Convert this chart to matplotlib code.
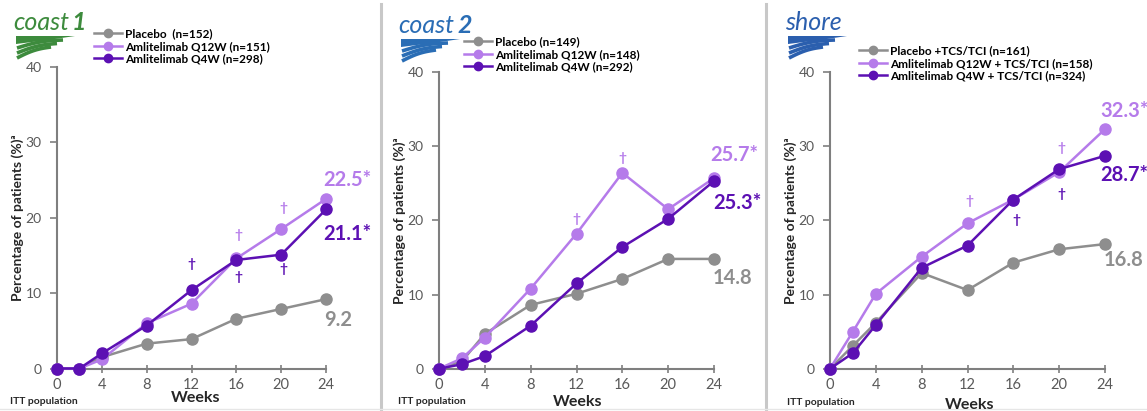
import matplotlib
matplotlib.use('Agg')
import matplotlib.pyplot as plt
import numpy as np
from matplotlib.patches import Polygon

plt.rcParams['font.family'] = ['Lato', 'DejaVu Sans']

# ---------------- data ----------------
weeks = [0, 2, 4, 8, 12, 16, 20, 24]

# coast 1
c1_placebo = [0, 0, 1.5, 3.3, 3.9, 6.6, 7.9, 9.2]
c1_q12w = [0, 0, 1.2, 6.0, 8.6, 14.6, 18.5, 22.5]
c1_q4w = [0, 0, 2.0, 5.7, 10.4, 14.4, 15.1, 21.1]
c1_labels = ['Placebo  (n=152)', 'Amlitelimab Q12W (n=151)', 'Amlitelimab Q4W (n=298)']

# coast 2
c2_placebo = [0, 1.0, 4.7, 8.6, 10.1, 12.1, 14.8, 14.8]
c2_q12w = [0, 1.4, 4.2, 10.8, 18.2, 26.4, 21.5, 25.7]
c2_q4w = [0, 0.6, 1.7, 5.8, 11.5, 16.4, 20.2, 25.3]
c2_labels = ['Placebo (n=149)', 'Amlitelimab Q12W (n=148)', 'Amlitelimab Q4W (n=292)']

# shore
sh_placebo = [0, 3.1, 6.2, 12.9, 10.6, 14.3, 16.1, 16.8]
sh_q12w = [0, 5.0, 10.1, 15.1, 19.6, 22.8, 26.5, 32.3]
sh_q4w = [0, 2.1, 5.9, 13.6, 16.6, 22.8, 26.9, 28.7]
sh_labels = ['Placebo +TCS/TCI (n=161)', 'Amlitelimab Q12W + TCS/TCI (n=158)',
             'Amlitelimab Q4W + TCS/TCI (n=324)']

# dagger marks (week, y, series) series: 'l' light, 'd' dark
c1_daggers = [(12, 13.9, 'd'), (16.2, 17.7, 'l'), (16.2, 12.2, 'd'), (20.2, 21.3, 'l'), (20.2, 13.2, 'd')]
c2_daggers = [(12, 20.2, 'l'), (16, 28.4, 'l')]
sh_daggers = [(12.2, 22.6, 'l'), (16.3, 20.0, 'd'), (20.2, 29.7, 'l'), (20.2, 23.5, 'd')]

# end labels (text, x, y, series)
c1_end = [('22.5*', 25.9, 25.0, 'l'), ('21.1*', 25.9, 17.8, 'd'), ('9.2', 25.1, 6.5, 'g')]
c2_end = [('25.7*', 25.8, 28.8, 'l'), ('25.3*', 26.0, 22.3, 'd'), ('14.8', 25.6, 12.2, 'g')]
sh_end = [('32.3*', 25.7, 34.7, 'l'), ('28.7*', 25.7, 26.1, 'd'), ('16.8', 25.6, 14.7, 'g')]

GREY = '#8e8e8e'
LIGHT = '#b57bea'
DARK = '#5c10b3'
cols = {'g': GREY, 'l': LIGHT, 'd': DARK}
TICK = '#595959'

W, H = 1147, 411
fig = plt.figure(figsize=(W / 100, H / 100), dpi=100)
fig.patch.set_facecolor('white')

# overlay in pixel coords for separators and logos
ov = fig.add_axes([0, 0, 1, 1], zorder=-1)
ov.set_xlim(0, W)
ov.set_ylim(H, 0)
ov.axis('off')
for xs in (381, 766):
    ov.plot([xs, xs], [4, H], color='#c8c8c8', lw=2.2)
ov.plot([0, W], [409, 409], color='#e6e6e6', lw=1)


def logo(x0, y0, word, num, color):
    t = ov.text(x0, y0, word, fontsize=18, color=color, ha='left', va='baseline',
                family='Lato', style='italic')
    if num:
        fig.canvas.draw()
        bb = t.get_window_extent()
        ov.text(bb.x1 + 3, y0, num, fontsize=18, color=color, ha='left',
                va='baseline', fontweight='bold', style='italic')
    # swoosh: wedge on top, parallel wavy stripes below
    ov.add_patch(Polygon([[x0 + 3, y0 + 6], [x0 + 62, y0 + 6], [x0 + 35, y0 + 10],
                          [x0 + 3, y0 + 14]], closed=True, color=color, lw=0))
    s = np.linspace(0, 1, 40)
    for k in range(3):
        xx = x0 + 4 + s * (46 - k * 6)
        yy = y0 + 18 + k * 5 - s * (8 + k * 1.5) - 2.0 * np.sin(np.pi * s)
        ov.plot(xx, yy, color=color, lw=2.6, solid_capstyle='butt')


logo(13, 30, 'coast', '1', '#3d8b3d')
logo(398, 33, 'coast', '2', '#2a6db5')
logo(785, 30, 'shore', None, '#2b5fae')

panels = [
    ([57 / W, 1 - 368.5 / H, 269 / W, 301.5 / H], c1_placebo, c1_q12w, c1_q4w, c1_labels,
     c1_daggers, c1_end, (94 / W, 1 - 28 / H), (196, 398), (10, 401)),
    ([439 / W, 1 - 368.7 / H, 275 / W, 296.7 / H], c2_placebo, c2_q12w, c2_q4w, c2_labels,
     c2_daggers, c2_end, (464 / W, 1 - 36 / H), (578, 402), (398, 401)),
    ([830 / W, 1 - 368.7 / H, 275 / W, 296.7 / H], sh_placebo, sh_q12w, sh_q4w, sh_labels,
     sh_daggers, sh_end, (859 / W, 1 - 45 / H), (970, 405), (787, 402)),
]

for rect, pla, q12, q4, labels, daggers, ends, legpos, weekpos, ittpos in panels:
    ax = fig.add_axes(rect)
    ax.patch.set_alpha(0)
    series = [(pla, GREY, labels[0], 3), (q12, LIGHT, labels[1], 4), (q4, DARK, labels[2], 5)]
    handles = []
    for vals, c, lab, z in series:
        h, = ax.plot(weeks, vals, color=c, lw=1.8, marker='o', markersize=8,
                     label=lab, zorder=z, clip_on=False)
        handles.append(h)
    ax.set_xlim(0, 24)
    ax.set_ylim(0, 40)
    ax.set_xticks([0, 4, 8, 12, 16, 20, 24])
    ax.set_yticks([0, 10, 20, 30, 40])
    for sp in ('top', 'right'):
        ax.spines[sp].set_visible(False)
    for sp in ('left', 'bottom'):
        ax.spines[sp].set_color('#7f7f7f')
        ax.spines[sp].set_linewidth(1.5)
    ax.tick_params(axis='y', direction='out', length=5, width=1.2, color='#7f7f7f',
                   labelcolor=TICK, labelsize=10, pad=6)
    ax.tick_params(axis='x', direction='inout', length=6, width=1.2, color='#7f7f7f',
                   labelcolor=TICK, labelsize=10.5, pad=4)
    ax.set_ylabel('Percentage of patients (%)ᵃ', fontsize=10, fontweight='bold',
                  color='#262626', labelpad=1)
    for x, y, s in daggers:
        ax.text(x, y, '†', color=cols[s], fontsize=10, fontweight='bold',
                ha='center', va='center')
    for txt, x, y, s in ends:
        ax.text(x, y, txt, color=cols[s], fontsize=14.5, fontweight='bold',
                ha='center', va='center', clip_on=False)
    leg = fig.legend(handles=handles, loc='upper left', bbox_to_anchor=legpos,
                     frameon=False, handlelength=2.4, handletextpad=0.2,
                     labelspacing=0.15, borderpad=0, borderaxespad=0,
                     prop={'weight': 'bold', 'size': 8.5})
    for h in leg.legend_handles:
        h.set_markersize(6)
    ov.text(weekpos[0], weekpos[1], 'Weeks', fontsize=11.5, fontweight='bold',
            color='#262626', ha='center', va='center')
    ov.text(ittpos[0], ittpos[1], 'ITT population', fontsize=7.5, fontweight='bold',
            color='#262626', ha='left', va='center')

fig.savefig('out.png', dpi=100, facecolor='white')
